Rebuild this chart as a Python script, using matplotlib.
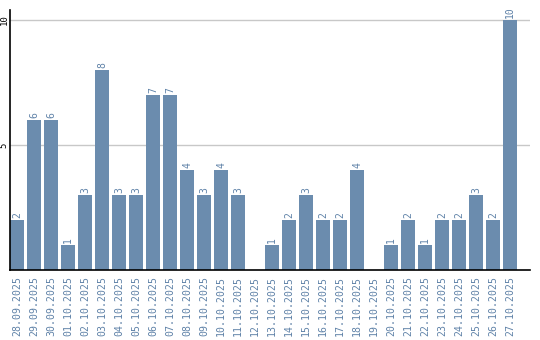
import matplotlib
matplotlib.use("Agg")
import matplotlib.pyplot as plt

dates = ["28.09.2025", "29.09.2025", "30.09.2025", "01.10.2025", "02.10.2025",
         "03.10.2025", "04.10.2025", "05.10.2025", "06.10.2025", "07.10.2025",
         "08.10.2025", "09.10.2025", "10.10.2025", "11.10.2025", "12.10.2025",
         "13.10.2025", "14.10.2025", "15.10.2025", "16.10.2025", "17.10.2025",
         "18.10.2025", "19.10.2025", "20.10.2025", "21.10.2025", "22.10.2025",
         "23.10.2025", "24.10.2025", "25.10.2025", "26.10.2025", "27.10.2025"]
counts = [2, 6, 6, 1, 3, 8, 3, 3, 7, 7, 4, 3, 4, 3, 0,
          1, 2, 3, 2, 2, 4, 0, 1, 2, 1, 2, 2, 3, 2, 10]

bar_color = "#6b8cae"
label_color = "#5f82a8"

fig = plt.figure(figsize=(5.4, 3.4), dpi=100)
ax = fig.add_axes([10 / 540, 70 / 340, 520 / 540, 260 / 340])

x = range(len(dates))
w = 0.82
ax.bar(x, counts, width=w, color=bar_color, zorder=2)
for i, v in enumerate(counts):
    if v > 0:
        ax.text(i, v + 0.08, str(v), rotation=90, ha="center", va="bottom",
                fontsize=7, color=label_color, family="DejaVu Sans Mono")

ax.set_xlim(-w / 2, 30.17)
ax.set_ylim(0, 10.4)
ax.set_yticks([5, 10])
ax.yaxis.grid(True, color="#c8c8c8", linewidth=1, zorder=0)
ax.tick_params(axis="both", length=0)
ax.set_yticklabels(["5", "10"], rotation=90, fontsize=6.5, family="DejaVu Sans Mono",
                   va="center")
ax.tick_params(axis="y", pad=1)
ax.set_xticks(list(x))
ax.set_xticklabels(dates, rotation=90, fontsize=7.1, color=label_color,
                   family="DejaVu Sans Mono")
ax.tick_params(axis="x", pad=4)
for s in ["top", "right"]:
    ax.spines[s].set_visible(False)
ax.spines["left"].set_linewidth(1.2)
ax.spines["bottom"].set_linewidth(1.2)

fig.savefig("out.png", dpi=100)
